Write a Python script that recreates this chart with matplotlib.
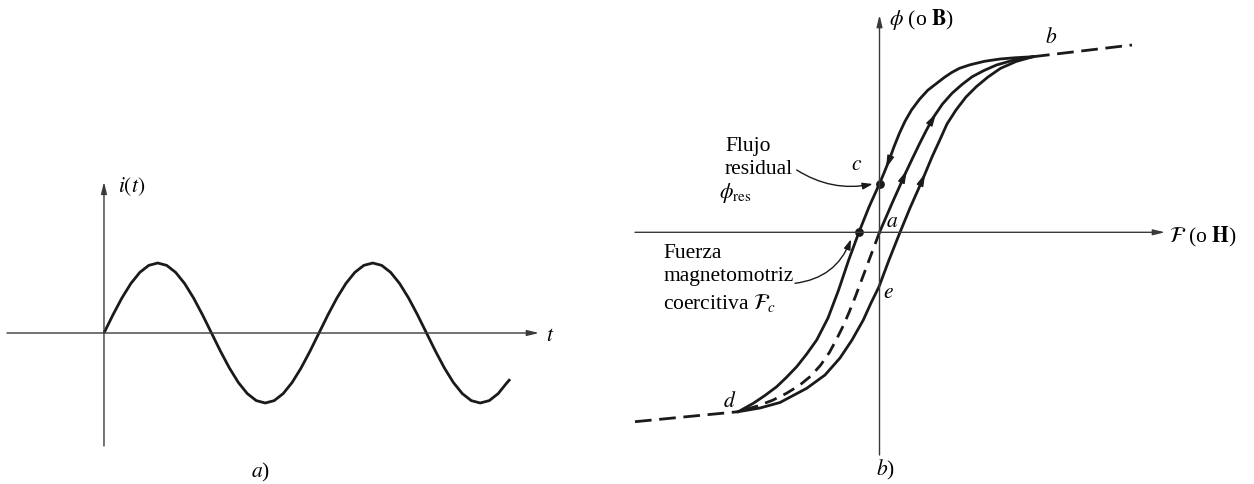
#!/usr/bin/env python3
"""
Corriente alterna i(t) y lazo de histéresis de un núcleo ferromagnético.
"""

import matplotlib.pyplot as plt
import numpy as np

plt.rcParams['font.family'] = ['Liberation Serif', 'DejaVu Serif']
plt.rcParams['mathtext.fontset'] = 'stix'
plt.rcParams['lines.scale_dashes'] = False

# a) current, t in electrical degrees, i in units of the peak value
t_deg = [0, 15, 30, 45, 60, 75, 90, 105, 120, 135, 150, 165,
         180, 195, 210, 225, 240, 255, 270, 285, 300, 315, 330, 345,
         360, 375, 390, 405, 420, 435, 450, 465, 480, 495, 510, 525,
         540, 555, 570, 585, 600, 615, 630, 645, 660, 675, 680]
i_t = [0.0, 0.259, 0.5, 0.707, 0.866, 0.966, 1.0, 0.966, 0.866, 0.707, 0.5, 0.259,
       0.0, -0.259, -0.5, -0.707, -0.866, -0.966, -1.0, -0.966, -0.866, -0.707, -0.5, -0.259,
       0.0, 0.259, 0.5, 0.707, 0.866, 0.966, 1.0, 0.966, 0.866, 0.707, 0.5, 0.259,
       0.0, -0.259, -0.5, -0.707, -0.866, -0.966, -1.0, -0.966, -0.866, -0.707, -0.66]

# b) hysteresis loop, mmf F and flux phi in arbitrary units
# descending branch b -> c -> coercive point -> d
down_F = [1.535, 1.35, 1.205, 1.05, 0.905, 0.80, 0.725, 0.65, 0.585, 0.482, 0.40,
          0.32, 0.255, 0.199, 0.145, 0.097, 0.048, 0.0, -0.105, -0.206, -0.308,
          -0.409, -0.515, -0.628, -0.73, -0.828, -0.93, -1.028, -1.15, -1.262, -1.412]
down_phi = [1.756, 1.745, 1.733, 1.71, 1.675, 1.64, 1.60, 1.55, 1.50, 1.42, 1.33,
            1.223, 1.11, 0.99, 0.855, 0.723, 0.60, 0.486, 0.253, 0.0, -0.277,
            -0.577, -0.857, -1.077, -1.22, -1.344, -1.45, -1.544, -1.635, -1.71, -1.794]
# ascending branch d -> e -> b
up_F = [-1.412, -1.195, -0.995, -0.728, -0.545, -0.395, -0.275, -0.162, -0.085,
        -0.005, 0.095, 0.205, 0.305, 0.385, 0.45, 0.525, 0.603, 0.675, 0.765,
        0.865, 0.968, 1.085, 1.211, 1.365, 1.535]
up_phi = [-1.794, -1.757, -1.702, -1.56, -1.427, -1.257, -1.077, -0.877, -0.707,
          -0.544, -0.277, 0.0, 0.243, 0.423, 0.573, 0.753, 0.923, 1.083, 1.223,
          1.353, 1.456, 1.553, 1.64, 1.708, 1.756]
# initial magnetization curve a -> b (solid) and a -> d (dashed)
init_F = [0.0, 0.065, 0.13, 0.195, 0.259, 0.33, 0.40, 0.47, 0.543, 0.63, 0.725,
          0.825, 0.927, 1.045, 1.17, 1.345, 1.535]
init_phi = [0.0, 0.15, 0.30, 0.445, 0.59, 0.74, 0.885, 1.023, 1.156, 1.283, 1.39,
            1.478, 1.556, 1.618, 1.673, 1.723, 1.756]
neg_F = [0.0, -0.06, -0.12, -0.18, -0.24, -0.30, -0.36, -0.43, -0.50, -0.59,
         -0.69, -0.80, -0.93, -1.07, -1.23, -1.412]
neg_phi = [0.0, -0.16, -0.32, -0.48, -0.64, -0.79, -0.93, -1.07, -1.20, -1.33,
           -1.44, -1.53, -1.61, -1.68, -1.74, -1.794]
# saturation extensions
sat_hi_F, sat_hi_phi = [1.535, 2.525], [1.756, 1.873]
sat_lo_F, sat_lo_phi = [-2.445, -1.412], [-1.894, -1.794]
phi_res = 0.486
F_c = -0.206

FS = 15.5
AX_C = '#3a3a3a'
INK = '#1a1a1a'


def axis_arrow(ax, p0, p1):
    ax.annotate('', xy=p1, xytext=p0,
                arrowprops=dict(arrowstyle='-|>,head_length=0.7,head_width=0.17',
                                mutation_scale=10, lw=1.0, color=AX_C,
                                shrinkA=0, shrinkB=0))


def curve_arrow(ax, F, phi, phi_tip, step):
    # arrowhead sitting on a branch, pointing along it
    order = np.argsort(phi)
    Fs, ps = np.asarray(F)[order], np.asarray(phi)[order]
    tip = (np.interp(phi_tip, ps, Fs), phi_tip)
    tail = (np.interp(phi_tip - step, ps, Fs), phi_tip - step)
    ax.annotate('', xy=tip, xytext=tail,
                arrowprops=dict(arrowstyle='-|>,head_length=0.8,head_width=0.22',
                                mutation_scale=10, lw=0.8, color=INK,
                                shrinkA=0, shrinkB=0))


fig = plt.figure(figsize=(12.54, 4.84), dpi=100)

# ---- a) ----
ax1 = fig.add_axes([0, 0, 620 / 1254, 1])
ax1.set_xlim(-174.1, 864.0)
ax1.set_ylim(-2.157, 4.757)
ax1.axis('off')
axis_arrow(ax1, (-162.4, 0), (728.4, 0))
axis_arrow(ax1, (0, -1.614), (0, 2.16))
ax1.plot(t_deg, i_t, color=INK, lw=2.0, solid_capstyle='butt')
ax1.text(23.4, 2.09, r'$i(t)$', fontsize=FS, ha='left', va='center')
ax1.text(746.3, -0.05, r'$t$', fontsize=FS, ha='center', va='center')
ax1.text(262.5, -1.99, r'$a$)', fontsize=FS, ha='center', va='center')

# ---- b) ----
ax2 = fig.add_axes([620 / 1254, 0, 634 / 1254, 1])
ax2.set_xlim(-2.595, 3.745)
ax2.set_ylim(-2.517, 2.323)
ax2.axis('off')
axis_arrow(ax2, (-2.445, 0), (2.855, 0))
axis_arrow(ax2, (0, -2.227), (0, 2.173))

LW = 2.0
ax2.plot(down_F, down_phi, color=INK, lw=LW)
ax2.plot(up_F, up_phi, color=INK, lw=LW)
ax2.plot(init_F, init_phi, color=INK, lw=LW)
ax2.plot(neg_F, neg_phi, color=INK, lw=LW, dashes=(9, 5.5))
ax2.plot(sat_hi_F, sat_hi_phi, color=INK, lw=LW, dashes=(12, 5.5))
ax2.plot(sat_lo_F, sat_lo_phi, color=INK, lw=LW, dashes=(12, 5.5))

curve_arrow(ax2, down_F, down_phi, 0.64, -0.09)
curve_arrow(ax2, init_F, init_phi, 0.62, 0.09)
curve_arrow(ax2, init_F, init_phi, 1.19, 0.09)
curve_arrow(ax2, up_F, up_phi, 0.59, 0.09)

ax2.plot([0], [phi_res], 'o', color=INK, ms=5.3)
ax2.plot([F_c], [0], 'o', color=INK, ms=5.3)

ax2.text(0.094, 2.123, r'$\phi$ (o $\mathbf{B}$)', fontsize=FS, ha='left', va='center')
ax2.text(2.895, -0.044, r'$\mathcal{F}$ (o $\mathbf{H}$)', fontsize=FS, ha='left', va='center')
ax2.text(1.713, 1.94, r'$b$', fontsize=FS, ha='center', va='center')
ax2.text(-0.225, 0.663, r'$c$', fontsize=FS, ha='center', va='center')
ax2.text(0.125, 0.096, r'$a$', fontsize=FS, ha='center', va='center')
ax2.text(0.085, -0.607, r'$e$', fontsize=FS, ha='center', va='center')
ax2.text(-1.495, -1.694, r'$d$', fontsize=FS, ha='center', va='center')

ax2.text(-1.545, 0.853, 'Flujo', fontsize=FS, ha='left', va='center')
ax2.text(-1.545, 0.623, 'residual', fontsize=FS, ha='left', va='center')
ax2.text(-1.605, 0.393, r'$\phi_{\rm res}$', fontsize=FS, ha='left', va='center')
ax2.text(-2.165, -0.207, 'Fuerza', fontsize=FS, ha='left', va='center')
ax2.text(-2.165, -0.447, 'magnetomotriz', fontsize=FS, ha='left', va='center')
ax2.text(-2.165, -0.707, r'coercitiva $\mathcal{F}_c$', fontsize=FS, ha='left', va='center')
ax2.text(0.055, -2.38, r'$b$)', fontsize=FS, ha='center', va='center')

ax2.annotate('', xy=(-0.068, 0.483), xytext=(-0.828, 0.623),
             arrowprops=dict(arrowstyle='-|>,head_length=0.6,head_width=0.2',
                             mutation_scale=10, lw=1.0, color=INK,
                             shrinkA=0, shrinkB=0,
                             connectionstyle='arc3,rad=0.2'))
ax2.annotate('', xy=(-0.285, -0.07), xytext=(-0.845, -0.51),
             arrowprops=dict(arrowstyle='-|>,head_length=0.6,head_width=0.2',
                             mutation_scale=10, lw=1.0, color=INK,
                             shrinkA=0, shrinkB=0,
                             connectionstyle='arc3,rad=0.3'))

fig.savefig('out.png', dpi=100)
plt.close(fig)
